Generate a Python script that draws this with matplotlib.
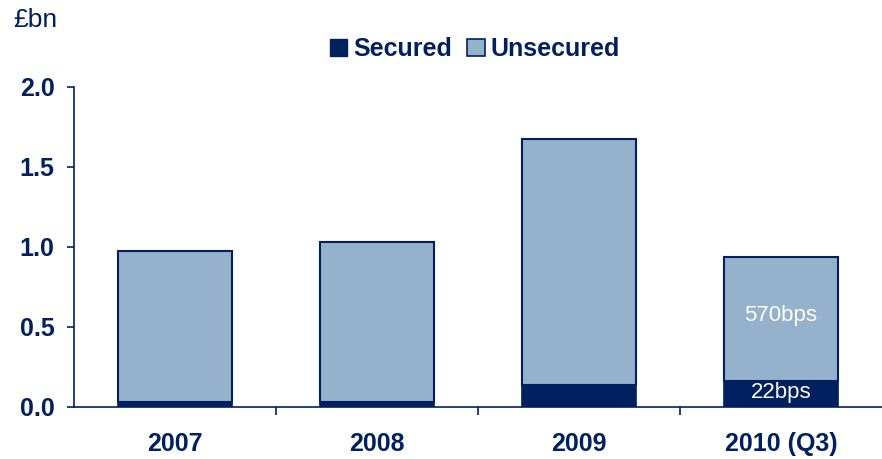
import matplotlib.pyplot as plt
from matplotlib.patches import Patch

plt.rcParams['font.family'] = ['Liberation Sans', 'DejaVu Sans']

# Provisions by year, £bn
years = ['2007', '2008', '2009', '2010 (Q3)']
secured = [0.03, 0.03, 0.14, 0.16]
unsecured = [0.945, 1.0, 1.535, 0.78]
yticks = [0.0, 0.5, 1.0, 1.5, 2.0]

navy = '#002060'
light = '#95B1CC'

fig = plt.figure(figsize=(8.82, 4.59), dpi=100)
ax = fig.add_axes([74 / 882, 1 - 407 / 459, 808 / 882, 320 / 459])

x = range(len(years))
ax.bar(x, secured, width=0.56, color=navy, edgecolor=navy, linewidth=1.2)
ax.bar(x, unsecured, width=0.56, bottom=secured, color=light,
       edgecolor=navy, linewidth=1.5)

# bps annotations on the latest bar
ax.text(3, secured[3] + unsecured[3] / 2 + 0.02, '570bps', color='white',
        fontsize=16, ha='center', va='center')
ax.text(3, secured[3] / 2 + 0.01, '22bps', color='white',
        fontsize=16, ha='center', va='center')

ax.set_xlim(-0.5, 3.5)
ax.set_ylim(0, 2.0)

for s in ['top', 'right']:
    ax.spines[s].set_visible(False)
for s in ['left', 'bottom']:
    ax.spines[s].set_color(navy)
    ax.spines[s].set_linewidth(1.2)

ax.set_yticks(yticks)
ax.set_yticklabels(['%.1f' % v for v in yticks], fontsize=18,
                   fontweight='bold', color=navy)
ax.tick_params(axis='y', length=5, width=1.2, color=navy, pad=9)

# ticks sit between categories, labels at the centres
ax.set_xticks([0.5, 1.5, 2.5])
ax.set_xticklabels([])
ax.tick_params(axis='x', length=6, width=1.2, color=navy)
for i, lab in enumerate(years):
    ax.text(i, -0.23, lab, fontsize=18, fontweight='bold', color=navy,
            ha='center', va='center')

fig.text(13 / 882, 1 - 20 / 459, '£bn', fontsize=19, color=navy,
         ha='left', va='center')

handles = [Patch(facecolor=navy, edgecolor=navy, label='Secured'),
           Patch(facecolor=light, edgecolor=navy, linewidth=1.2, label='Unsecured')]
fig.legend(handles=handles, loc='center', bbox_to_anchor=(475 / 882, 1 - 49 / 459),
           ncol=2, frameon=False, handlelength=0.7, handleheight=0.7,
           handletextpad=0.25, columnspacing=0.6,
           prop={'size': 18, 'weight': 'bold'}, labelcolor=navy)

fig.savefig('out.png', dpi=100)
